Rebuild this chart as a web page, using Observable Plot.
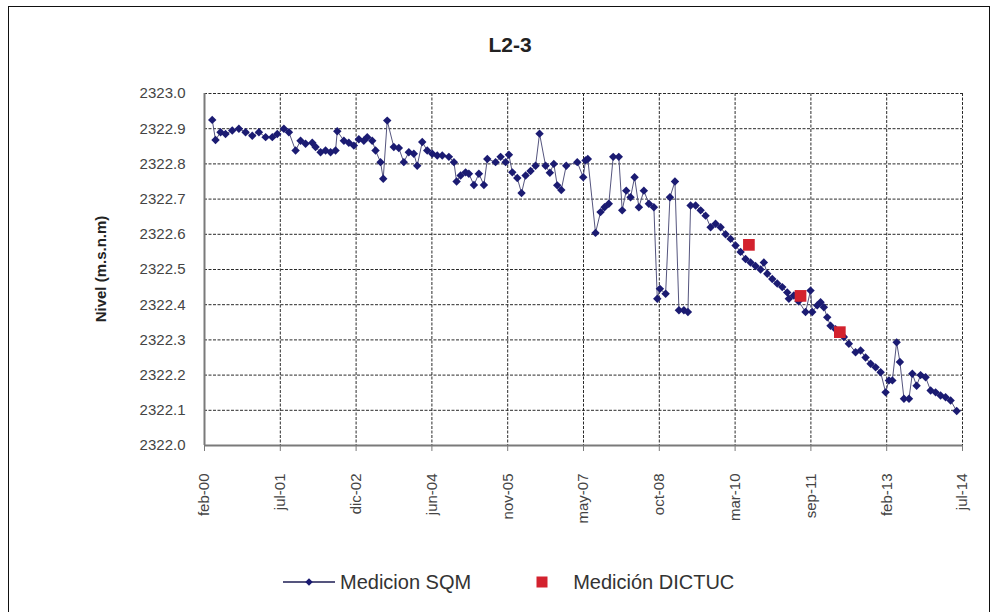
<!DOCTYPE html>
<html>
<head>
<meta charset="utf-8">
<script src="https://cdn.jsdelivr.net/npm/d3@7"></script>
<script src="https://cdn.jsdelivr.net/npm/@observablehq/plot@0.6"></script>
<style>
  body { margin: 0; background: #fff; font-family: "Liberation Sans", Arial, sans-serif; }
  #page { position: relative; width: 999px; height: 612px; overflow: hidden; }
  #frame { position: absolute; left: 8px; top: 6px; width: 982px; height: 660px; border: 1px solid #111; box-sizing: border-box; }
  #title { position: absolute; top: 33px; left: 410px; width: 200px; text-align: center; font-weight: bold; font-size: 21px; line-height: 24px; color: #222; }
  #ylabel { position: absolute; left: 100px; top: 269px; transform: translate(-50%, -50%) rotate(-90deg); font-weight: bold; font-size: 15px; color: #222; white-space: nowrap; }
  #chart { position: absolute; left: 0; top: 60px; }
  #legend { position: absolute; top: 570px; left: 282px; display: flex; align-items: center; font-size: 20px; line-height: 24px; color: #333; }
  #legend .item { display: flex; align-items: center; }
  #legend svg { display: block; }
</style>
</head>
<body>
<div id="page">
  <div id="frame"></div>
  <div id="title">L2-3</div>
  <div id="ylabel">Nivel (m.s.n.m)</div>
  <div id="chart"></div>
  <div id="legend"></div>
</div>
<script>
// Groundwater level readings at well L2-3 (decimal year, metres above sea level)
const sqmDates = [
  2000.240, 2000.303, 2000.399, 2000.494, 2000.622, 2000.748, 2000.876, 2001.004, 2001.131, 2001.259,
  2001.387, 2001.482, 2001.608, 2001.704, 2001.832, 2001.927, 2002.023, 2002.151, 2002.214, 2002.310,
  2002.405, 2002.501, 2002.596, 2002.629, 2002.755, 2002.850, 2002.946, 2003.041, 2003.137, 2003.202,
  2003.297, 2003.361, 2003.456, 2003.508, 2003.584, 2003.710, 2003.806, 2003.901, 2003.997, 2004.092,
  2004.157, 2004.253, 2004.348, 2004.444, 2004.539, 2004.635, 2004.761, 2004.857, 2004.908, 2004.985,
  2005.080, 2005.143, 2005.239, 2005.334, 2005.430, 2005.495, 2005.653, 2005.749, 2005.845, 2005.908,
  2005.973, 2006.068, 2006.150, 2006.227, 2006.322, 2006.418, 2006.494, 2006.609, 2006.691, 2006.767,
  2006.832, 2006.909, 2007.004, 2007.215, 2007.329, 2007.373, 2007.417, 2007.564, 2007.660, 2007.736,
  2007.818, 2007.902, 2008.009, 2008.074, 2008.151, 2008.233, 2008.310, 2008.392, 2008.487, 2008.583,
  2008.678, 2008.743, 2008.793, 2008.902, 2008.984, 2009.080, 2009.156, 2009.251, 2009.328, 2009.379,
  2009.475, 2009.571, 2009.666, 2009.762, 2009.857, 2009.953, 2010.048, 2010.144, 2010.239, 2010.335,
  2010.430, 2010.526, 2010.621, 2010.717, 2010.780, 2010.845, 2010.941, 2011.036, 2011.132, 2011.227,
  2011.258, 2011.354, 2011.443, 2011.577, 2011.672, 2011.705, 2011.800, 2011.864, 2011.927, 2011.992,
  2012.055, 2012.150, 2012.246, 2012.309, 2012.404, 2012.532, 2012.628, 2012.723, 2012.819, 2012.914,
  2013.010, 2013.105, 2013.169, 2013.234, 2013.316, 2013.379, 2013.456, 2013.552, 2013.616, 2013.698,
  2013.774, 2013.870, 2013.966, 2014.061, 2014.156, 2014.252, 2014.348, 2014.464
];
const sqmLevels = [
  2322.925, 2322.868, 2322.890, 2322.885, 2322.895, 2322.900, 2322.890, 2322.880, 2322.890, 2322.876,
  2322.876, 2322.885, 2322.900, 2322.890, 2322.838, 2322.866, 2322.857, 2322.860, 2322.848, 2322.833,
  2322.838, 2322.833, 2322.838, 2322.893, 2322.866, 2322.860, 2322.852, 2322.870, 2322.866, 2322.876,
  2322.866, 2322.838, 2322.805, 2322.758, 2322.923, 2322.848, 2322.845, 2322.805, 2322.833, 2322.829,
  2322.795, 2322.862, 2322.838, 2322.829, 2322.824, 2322.824, 2322.820, 2322.805, 2322.750, 2322.767,
  2322.776, 2322.772, 2322.740, 2322.772, 2322.740, 2322.814, 2322.805, 2322.820, 2322.805, 2322.826,
  2322.776, 2322.760, 2322.717, 2322.767, 2322.780, 2322.795, 2322.886, 2322.795, 2322.775, 2322.800,
  2322.739, 2322.726, 2322.795, 2322.805, 2322.762, 2322.810, 2322.814, 2322.604, 2322.663, 2322.677,
  2322.687, 2322.820, 2322.820, 2322.668, 2322.724, 2322.705, 2322.762, 2322.677, 2322.724, 2322.687,
  2322.677, 2322.417, 2322.445, 2322.431, 2322.705, 2322.750, 2322.384, 2322.384, 2322.379, 2322.682,
  2322.682, 2322.668, 2322.653, 2322.620, 2322.630, 2322.620, 2322.600, 2322.587, 2322.568, 2322.550,
  2322.530, 2322.520, 2322.510, 2322.500, 2322.520, 2322.488, 2322.473, 2322.460, 2322.450, 2322.435,
  2322.417, 2322.426, 2322.410, 2322.379, 2322.440, 2322.379, 2322.398, 2322.407, 2322.393, 2322.364,
  2322.340, 2322.330, 2322.320, 2322.308, 2322.289, 2322.265, 2322.270, 2322.250, 2322.232, 2322.222,
  2322.208, 2322.151, 2322.185, 2322.185, 2322.293, 2322.237, 2322.133, 2322.133, 2322.204, 2322.170,
  2322.200, 2322.194, 2322.156, 2322.151, 2322.142, 2322.137, 2322.128, 2322.098
];

// Control measurements
const dictucDates = [2010.494, 2011.481, 2012.232];
const dictucLevels = [2322.570, 2322.425, 2322.322];

// Axis definition
const tickLabels = ["feb-00", "jul-01", "dic-02", "jun-04", "nov-05", "may-07", "oct-08", "mar-10", "sep-11", "feb-13", "jul-14"];
const axisStart = "2000-02-04";
const tickStepDays = 529;
const yTicks = [2322.0, 2322.1, 2322.2, 2322.3, 2322.4, 2322.5, 2322.6, 2322.7, 2322.8, 2322.9, 2323.0];

function fromDecimalYear(t) {
  const y = Math.floor(t);
  const a = Date.UTC(y, 0, 1), b = Date.UTC(y + 1, 0, 1);
  return new Date(a + (t - y) * (b - a));
}

const sqm = sqmDates.map((t, i) => ({date: fromDecimalYear(t), level: sqmLevels[i]}));
const dictuc = dictucDates.map((t, i) => ({date: fromDecimalYear(t), level: dictucLevels[i]}));

const start = new Date(axisStart + "T00:00:00Z");
const xTicks = tickLabels.map((_, i) => d3.utcDay.offset(start, i * tickStepDays));
const xFormat = d => tickLabels[xTicks.findIndex(t => +t === +d)] ?? "";

const navy = "#1b1b72";
const lineColor = "#55557e";
const red = "#d3222e";
const gridStyle = {stroke: "#2a2a2a", strokeOpacity: 1, strokeWidth: 1, strokeDasharray: "3,1.5"};

const chart = Plot.plot({
  width: 999,
  height: 480,
  marginLeft: 204,
  marginRight: 37,
  marginTop: 33,
  marginBottom: 95,
  style: {fontFamily: "'Liberation Sans', Arial, sans-serif", fontSize: "15px", color: "#333", background: "transparent", overflow: "visible"},
  x: {type: "utc", domain: [xTicks[0], xTicks[xTicks.length - 1]]},
  y: {domain: [2322, 2323]},
  marks: [
    Plot.gridY(yTicks, gridStyle),
    Plot.gridX(xTicks, gridStyle),
    Plot.ruleX([xTicks[0]], {stroke: "#7a7a7a", strokeWidth: 2}),
    Plot.ruleY([2322], {stroke: "#7a7a7a", strokeWidth: 2}),
    Plot.axisY(yTicks, {tickSize: 0, tickPadding: 19, tickFormat: d => d.toFixed(1), label: null, fill: "#444"}),
    Plot.axisX(xTicks, {tickSize: 6, tickPadding: 22, tickRotate: -90, tickFormat: xFormat, label: null, fill: "#444", stroke: "#7a7a7a"}),
    Plot.line(sqm, {x: "date", y: "level", stroke: lineColor, strokeWidth: 1}),
    Plot.dot(sqm, {x: "date", y: "level", symbol: "diamond2", r: 3.8, fill: navy, stroke: "none"}),
    Plot.dot(dictuc, {x: "date", y: "level", symbol: "square", r: 6.6, fill: red, stroke: "none"})
  ]
});
document.getElementById("chart").append(chart);

// Legend
const legend = d3.select("#legend");
const item1 = legend.append("div").attr("class", "item");
const s1 = item1.append("svg").attr("width", 54).attr("height", 14);
s1.append("line").attr("x1", 1).attr("x2", 53).attr("y1", 7).attr("y2", 7).attr("stroke", "#55557e").attr("stroke-width", 2);
s1.append("path").attr("d", d3.symbol(d3.symbolDiamond2, Math.PI * 3.4 * 3.4)()).attr("transform", "translate(27,7)").attr("fill", navy);
item1.append("span").text("Medicion SQM").style("margin-left", "4px");
const item2 = legend.append("div").attr("class", "item").style("margin-left", "65px");
const s2 = item2.append("svg").attr("width", 12).attr("height", 14);
s2.append("rect").attr("x", 0.5).attr("y", 1.5).attr("width", 11).attr("height", 11).attr("fill", red);
item2.append("span").text("Medición DICTUC").style("margin-left", "25px");
</script>
</body>
</html>
